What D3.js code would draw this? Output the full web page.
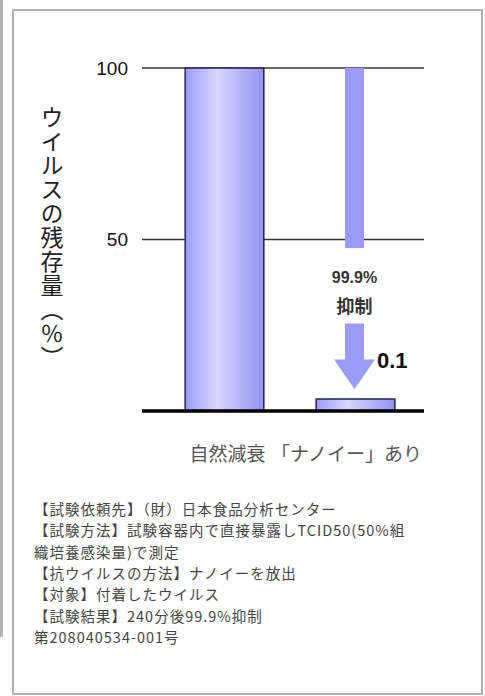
<!DOCTYPE html>
<html>
<head>
<meta charset="utf-8">
<script src="https://cdn.jsdelivr.net/npm/d3@7"></script>
<style>
  html, body { margin: 0; padding: 0; background: #fff; }
  svg { display: block; }
</style>
</head>
<body>
<script>
var w = 485;
var h = 696;

// data
var categories = ['自然減衰', '「ナノイー」あり'];
var barValues = [100, 3.5];
var yTicks = [100, 50];
var resultLabel = '0.1';
var reduceLabel = ['99.9%', '抑制'];
var notes = [
   '【試験依頼先】（財）日本食品分析センター',
   '【試験方法】試験容器内で直接暴露しTCID50(50%組',
   '織培養感染量)で測定',
   '【抗ウイルスの方法】ナノイーを放出',
   '【対象】付着したウイルス',
   '【試験結果】240分後99.9%抑制',
   '第208040534-001号'
];

var font = '"Noto Sans CJK JP", "Noto Sans", sans-serif';
var latin = '"Liberation Sans", Arial, sans-serif';

var svg = d3.select('body')
   .append('svg')
   .attr('width', w)
   .attr('height', h);

// outer frame + left strip
svg.append('rect')
   .attr('x', 0).attr('y', 0).attr('width', 3).attr('height', 637)
   .attr('fill', '#b4b4b4');
svg.append('rect')
   .attr('x', 13).attr('y', 10).attr('width', 469).attr('height', 684)
   .attr('fill', '#fff')
   .attr('stroke', '#b0b0b0')
   .attr('stroke-width', 2);

var defs = svg.append('defs');
var grad = defs.append('linearGradient')
   .attr('id', 'barGrad')
   .attr('x1', '0%').attr('x2', '100%').attr('y1', '0%').attr('y2', '0%');
grad.append('stop').attr('offset', '0%').attr('stop-color', '#9c9cfb');
grad.append('stop').attr('offset', '40%').attr('stop-color', '#d6d6ff');
grad.append('stop').attr('offset', '100%').attr('stop-color', '#9494f2');

var x = d3.scaleBand()
   .domain(categories)
   .range([159, 421]);
var y = d3.scaleLinear()
   .domain([0, 100])
   .range([411, 68]);

// gridlines
svg.selectAll('line.grid')
   .data(yTicks)
   .enter()
   .append('line')
   .attr('class', 'grid')
   .attr('x1', 142).attr('x2', 424)
   .attr('y1', function(d) { return y(d); })
   .attr('y2', function(d) { return y(d); })
   .attr('stroke', '#333')
   .attr('stroke-width', 1.6);

svg.selectAll('text.tick')
   .data(yTicks)
   .enter()
   .append('text')
   .attr('class', 'tick')
   .attr('x', 128)
   .attr('y', function(d) { return y(d); })
   .attr('dy', '0.36em')
   .attr('text-anchor', 'end')
   .attr('font-family', latin)
   .attr('font-size', 19)
   .attr('fill', '#111')
   .text(function(d) { return d; });

// bars
var barW = x.bandwidth() * 0.6;
svg.selectAll('rect.bar')
   .data(barValues)
   .enter()
   .append('rect')
   .attr('class', 'bar')
   .attr('x', function(d, i) { return x(categories[i]) + (x.bandwidth() - barW) / 2; })
   .attr('y', function(d) { return y(d); })
   .attr('width', barW)
   .attr('height', function(d) { return y(0) - y(d); })
   .attr('fill', 'url(#barGrad)')
   .attr('stroke', '#2c2c5a')
   .attr('stroke-width', 1.6);

// baseline
svg.append('line')
   .attr('x1', 142).attr('x2', 424)
   .attr('y1', y(0)).attr('y2', y(0))
   .attr('stroke', '#000')
   .attr('stroke-width', 3.5);

// reduction arrow on 2nd category
var cx = x(categories[1]) + x.bandwidth() / 2 - 1;
var arrowColor = '#9a9af8';
svg.append('rect')
   .attr('x', cx - 9.5).attr('y', y(100))
   .attr('width', 19).attr('height', y(47.5) - y(100))
   .attr('fill', arrowColor);
var arrowPath = d3.path();
arrowPath.moveTo(cx - 9.5, y(25.5));
arrowPath.lineTo(cx + 9.5, y(25.5));
arrowPath.lineTo(cx + 9.5, y(15));
arrowPath.lineTo(cx + 20.5, y(15));
arrowPath.lineTo(cx, y(6.4));
arrowPath.lineTo(cx - 20.5, y(15));
arrowPath.lineTo(cx - 9.5, y(15));
arrowPath.closePath();
svg.append('path')
   .attr('d', arrowPath.toString())
   .attr('fill', arrowColor);

svg.selectAll('text.reduce')
   .data(reduceLabel)
   .enter()
   .append('text')
   .attr('class', 'reduce')
   .attr('x', cx)
   .attr('y', function(d, i) { return 283 + i * 30; })
   .attr('text-anchor', 'middle')
   .attr('font-family', function(d, i) { return i === 0 ? latin : font; })
   .attr('font-size', function(d, i) { return i === 0 ? 16 : 18; })
   .attr('font-weight', function(d, i) { return i === 0 ? '600' : 'bold'; })
   .attr('fill', '#333')
   .text(function(d) { return d; });

svg.append('text')
   .attr('x', 377)
   .attr('y', 368)
   .attr('font-family', latin)
   .attr('font-size', 22)
   .attr('font-weight', 'bold')
   .attr('fill', '#111')
   .text(resultLabel);

// category labels
svg.selectAll('text.cat')
   .data(categories)
   .enter()
   .append('text')
   .attr('class', 'cat')
   .attr('x', function(d, i) { return x(d) + x.bandwidth() / 2 + (i === 0 ? 3 : -9); })
   .attr('y', 461)
   .attr('text-anchor', 'middle')
   .attr('font-family', font)
   .attr('font-size', 19)
   .attr('fill', '#555')
   .text(function(d) { return d; });

// y axis title (vertical)
svg.append('text')
   .attr('x', 52)
   .attr('y', 106)
   .attr('writing-mode', 'vertical-rl')
   .attr('font-family', font)
   .attr('font-size', 23)
   .attr('letter-spacing', 1)
   .attr('fill', '#222')
   .text('ウイルスの残存量（％）');

// notes
svg.selectAll('text.note')
   .data(notes)
   .enter()
   .append('text')
   .attr('class', 'note')
   .attr('x', 34)
   .attr('y', function(d, i) { return 515 + i * 21.3; })
   .attr('font-family', font)
   .attr('font-size', 14.5)
   .attr('letter-spacing', 1)
   .attr('fill', '#444')
   .text(function(d) { return d; });
</script>
</body>
</html>
